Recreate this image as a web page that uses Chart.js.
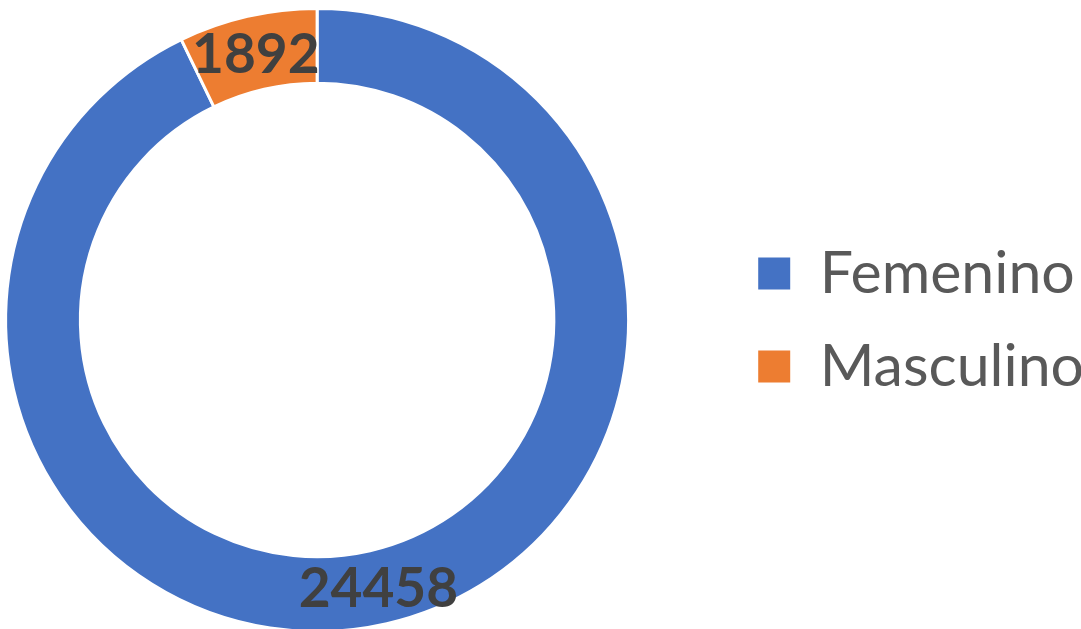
<!DOCTYPE html>
<html>
<head>
<meta charset="utf-8">
<script src="https://cdn.jsdelivr.net/npm/chart.js@4/dist/chart.umd.min.js"></script>
<style>
  html, body { margin: 0; padding: 0; background: #fff; overflow: hidden; }
  #wrap { position: absolute; left: -90px; top: 0; width: 1184px; height: 640px; }
</style>
</head>
<body>
<div id="wrap"><canvas id="donut"></canvas></div>
<script>
const categories = ["Femenino", "Masculino"];
const values = [24458, 1892];
const sliceColors = ["#4472C4", "#ED7D31"];

// draws the value of each slice in the middle of its ring segment
const valueLabels = {
  id: "valueLabels",
  afterDatasetsDraw(chart) {
    const ctx = chart.ctx;
    const meta = chart.getDatasetMeta(0);
    ctx.save();
    ctx.font = "bold 55px Lato";
    ctx.fillStyle = "#404040";
    ctx.textAlign = "center";
    ctx.textBaseline = "middle";
    meta.data.forEach((arc, i) => {
      const p = arc.tooltipPosition();
      ctx.fillText(String(values[i]), p.x, p.y + 2);
    });
    ctx.restore();
  }
};

const ctx = document.getElementById("donut").getContext("2d");
new Chart(ctx, {
  type: "doughnut",
  data: {
    labels: categories,
    datasets: [{
      data: values,
      backgroundColor: sliceColors,
      borderColor: "#ffffff",
      borderWidth: 3,
      cutout: "76%"
    }]
  },
  options: {
    responsive: true,
    maintainAspectRatio: false,
    animation: false,
    layout: {
      padding: { left: 0, right: 0, top: 7, bottom: 7 }
    },
    plugins: {
      tooltip: { enabled: false },
      legend: {
        position: "right",
        labels: {
          color: "#595959",
          font: { family: "Lato", size: 59 },
          boxWidth: 32,
          boxHeight: 32,
          padding: 34,
          generateLabels: function (chart) {
            const items = Chart.overrides.doughnut.plugins.legend.labels.generateLabels(chart);
            return items.map((item) => Object.assign(item, { lineWidth: 0, strokeStyle: "rgba(0,0,0,0)" }));
          }
        }
      }
    }
  },
  plugins: [valueLabels]
});
</script>
</body>
</html>
